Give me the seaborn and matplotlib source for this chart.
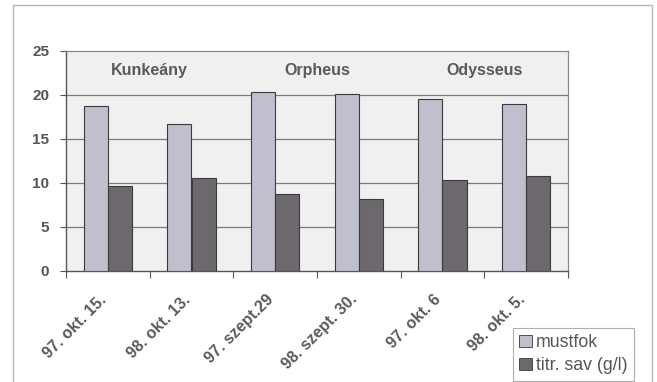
import matplotlib
matplotlib.use("Agg")
import matplotlib.pyplot as plt
import matplotlib.patches as mpatches
import matplotlib.transforms as mtransforms
import seaborn as sns
import pandas as pd

# Harvest dates and measured values
dates = ["97. okt. 15.", "98. okt. 13.", "97. szept.29", "98. szept. 30.", "97. okt. 6", "98. okt. 5."]
mustfok = [18.7, 16.7, 20.3, 20.1, 19.5, 19.0]
titr_sav = [9.7, 10.6, 8.7, 8.2, 10.3, 10.8]
series_names = ["mustfok", "titr. sav (g/l)"]
varieties = ["Kunkeány", "Orpheus", "Odysseus"]
y_ticks = [0, 5, 10, 15, 20, 25]

df = pd.DataFrame({
    "date": dates * 2,
    "value": mustfok + titr_sav,
    "series": [series_names[0]] * len(dates) + [series_names[1]] * len(dates),
})

sns.set_theme(style="white")
plt.rcParams["font.family"] = ["Liberation Sans", "DejaVu Sans"]

W, H = 657, 382
fig = plt.figure(figsize=(W / 100, H / 100), dpi=100)
fig.patch.set_facecolor("white")

ax = fig.add_axes([66 / W, 1 - 271 / H, (568 - 66) / W, (271 - 51) / H])
ax.set_facecolor("#f0f0f1")

palette = {series_names[0]: "#c0bfcd", series_names[1]: "#6c686d"}
sns.barplot(data=df, x="date", y="value", hue="series", order=dates,
            hue_order=series_names, palette=palette, width=0.574,
            edgecolor="#3a3a3a", linewidth=0.8, saturation=1,
            legend=False, ax=ax, zorder=3)

ax.set_ylim(0, 25)
ax.set_xlim(-0.5, len(dates) - 0.5)
ax.set_yticks(y_ticks)
ax.set_xlabel("")
ax.set_ylabel("")

# grid lines
for yv in y_ticks[1:-1]:
    ax.axhline(yv, color="#7a7a7a", lw=0.9, zorder=1)

for side in ["top", "right"]:
    ax.spines[side].set_color("#8a8a8a")
    ax.spines[side].set_linewidth(0.9)
for side in ["left", "bottom"]:
    ax.spines[side].set_color("#555555")
    ax.spines[side].set_linewidth(1.0)

# category boundary ticks on x, labels centered below bars
ax.set_xticks([i + 0.5 for i in range(-1, len(dates))], minor=True)
ax.tick_params(axis="x", which="minor", length=5, width=0.8, color="#555555", direction="out", bottom=True)
ax.tick_params(axis="x", which="major", length=0, pad=15)
ax.set_xticks(range(len(dates)))
ax.set_xticklabels(dates, rotation=45, ha="right", va="top",
                   rotation_mode="anchor", fontsize=11.5, fontweight="bold", color="#5a5a5a")
shift = mtransforms.ScaledTranslation(-9 / 100, 0, fig.dpi_scale_trans)
for lab in ax.get_xticklabels():
    lab.set_transform(lab.get_transform() + shift)
ax.tick_params(axis="y", length=4, width=0.8, color="#555555", direction="out", left=True, pad=8)
for lab in ax.get_yticklabels():
    lab.set_fontsize(11)
    lab.set_fontweight("bold")
    lab.set_color("#555555")

# variety labels over each pair of dates
for i, name in enumerate(varieties):
    ax.text(2 * i + 0.5, 22.8, name, ha="center", va="center",
            fontsize=11.5, fontweight="bold", color="#5a5a5a", zorder=4)

# legend
handles = [mpatches.Patch(facecolor=palette[s], edgecolor="#3a3a3a", linewidth=0.6, label=s)
           for s in series_names]
leg = fig.legend(handles=handles, loc="upper left",
                 bbox_to_anchor=(513 / W, 1 - 328 / H), fontsize=12.8,
                 frameon=True, fancybox=False, edgecolor="#999999",
                 handlelength=0.7, handleheight=0.7, handletextpad=0.25,
                 borderpad=0.35, labelspacing=0.35, borderaxespad=0)
for t in leg.get_texts():
    t.set_color("#555555")
leg.get_frame().set_linewidth(0.8)

# outer chart frame
fig.patches.append(mpatches.Rectangle((13 / W, -0.05), (652 - 13) / W, 1 - 5 / H + 0.05,
                                      transform=fig.transFigure, fill=False,
                                      edgecolor="#b5b5b5", linewidth=1.0))

fig.savefig("out.png", dpi=100)
